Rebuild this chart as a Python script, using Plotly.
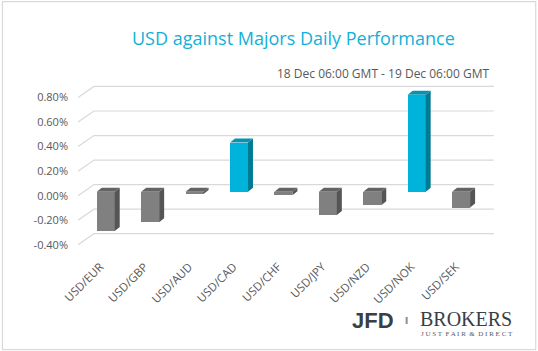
import plotly.graph_objects as go

# ---- data ----
categories = ["USD/EUR", "USD/GBP", "USD/AUD", "USD/CAD", "USD/CHF",
              "USD/JPY", "USD/NZD", "USD/NOK", "USD/SEK"]
values = [-0.32, -0.25, -0.02, 0.40, -0.03, -0.19, -0.11, 0.79, -0.13]  # percent
tick_vals = [-0.4, -0.2, 0.0, 0.2, 0.4, 0.6, 0.8]
title_text = "USD against Majors Daily Performance"
subtitle_text = "18 Dec 06:00 GMT - 19 Dec 06:00 GMT"

# ---- pseudo-3D geometry (in axis units) ----
W, H = 538, 351
PX_X = 44.4      # px per category
PX_Y = 122.0     # px per 1 %
ML = 78
XR = [0, 9.5]
YR = [-0.41, 0.91]
MR = W - ML - (XR[1] - XR[0]) * PX_X
y_bottom_px = 244.3 + (-0.4 - YR[0]) * PX_Y
MB = H - y_bottom_px
MT = y_bottom_px - (YR[1] - YR[0]) * PX_Y

wall_dx, wall_dy = 16 / PX_X, 11 / PX_Y          # floor depth
front_dx, front_dy = 5.5 / PX_X, 4 / PX_Y        # bar front plane offset
bar_dx, bar_dy = 5 / PX_X, 4 / PX_Y              # bar depth
bar_w = 18 / PX_X

def colors(v):
    if v > 0:
        return "#00b3db", "#007b93", "#0594b4"
    return "#808080", "#555555", "#646464"

fig = go.Figure()

# gridlines: diagonal on side wall + horizontal on back wall
shapes = []
for t in tick_vals:
    path = (f"M 0,{t} L {wall_dx},{t + wall_dy} L {len(categories) + wall_dx},{t + wall_dy}")
    shapes.append(dict(type="path", path=path, xref="x", yref="y",
                       line=dict(color="#d9d9d9", width=1.2), layer="below"))

# front faces
xs = [i + 0.5 + front_dx for i in range(len(categories))]
fig.add_trace(go.Bar(
    x=xs, y=values, base=[front_dy] * len(values), width=bar_w,
    marker=dict(color=[colors(v)[0] for v in values], line=dict(width=0)),
    hoverinfo="skip", showlegend=False))

# side and top faces
for xc, v in zip(xs, values):
    _, side_c, top_c = colors(v)
    lo = min(front_dy, front_dy + v)
    hi = max(front_dy, front_dy + v)
    xl, xr = xc - bar_w / 2, xc + bar_w / 2
    fig.add_trace(go.Scatter(
        x=[xr, xr + bar_dx, xr + bar_dx, xr, xr],
        y=[lo, lo + bar_dy, hi + bar_dy, hi, lo],
        fill="toself", fillcolor=side_c, mode="lines", line=dict(width=0),
        hoverinfo="skip", showlegend=False))
    fig.add_trace(go.Scatter(
        x=[xl, xl + bar_dx, xr + bar_dx, xr, xl],
        y=[hi, hi + bar_dy, hi + bar_dy, hi, hi],
        fill="toself", fillcolor=top_c, mode="lines", line=dict(width=0),
        hoverinfo="skip", showlegend=False))

# border around the whole chart
pw = W - ML - MR
ph = H - MT - MB
def px2paper_x(px):
    return (px - ML) / pw
def px2paper_y(py):
    return (H - MB - py) / ph
shapes.append(dict(type="rect", xref="paper", yref="paper",
                   x0=px2paper_x(2.5), x1=px2paper_x(535.5),
                   y0=px2paper_y(348.5), y1=px2paper_y(2.5),
                   line=dict(color="#d9d9d9", width=1.2)))
# logo separator
shapes.append(dict(type="rect", xref="paper", yref="paper",
                   x0=px2paper_x(405.5), x1=px2paper_x(407.5),
                   y0=px2paper_y(323), y1=px2paper_y(316),
                   fillcolor="#8a8f96", line=dict(width=0)))

tagline = "  ".join(" ".join(word) for word in ["JUST", "FAIR", "&", "DIRECT"])

annotations = [
    dict(text=title_text, xref="paper", yref="paper",
         x=px2paper_x(293), y=px2paper_y(39), xanchor="center", yanchor="middle",
         showarrow=False, font=dict(family="Open Sans", size=18, color="#12b0d8")),
    dict(text=subtitle_text, xref="paper", yref="paper",
         x=px2paper_x(491), y=px2paper_y(74), xanchor="right", yanchor="middle",
         showarrow=False, font=dict(family="Open Sans", size=12, color="#595959")),
    dict(text="<b>JFD</b>", xref="paper", yref="paper",
         x=px2paper_x(350), y=px2paper_y(319.5), xanchor="left", yanchor="middle",
         showarrow=False, font=dict(family="Liberation Sans", size=22, color="#3a3e45")),
    dict(text="BROKERS", xref="paper", yref="paper",
         x=px2paper_x(418), y=px2paper_y(318.5), xanchor="left", yanchor="middle",
         showarrow=False, font=dict(family="Liberation Serif", size=20, color="#3a3e45")),
    dict(text=tagline,
         xref="paper", yref="paper",
         x=px2paper_x(419), y=px2paper_y(333), xanchor="left", yanchor="middle",
         showarrow=False, font=dict(family="Liberation Serif", size=7, color="#55595f")),
]

fig.update_layout(
    width=W, height=H, autosize=False,
    margin=dict(l=ML, r=MR, t=MT, b=MB, pad=0),
    paper_bgcolor="white", plot_bgcolor="white",
    shapes=shapes, annotations=annotations, bargap=0,
    xaxis=dict(range=XR, tickmode="array",
               tickvals=[i + 0.5 for i in range(len(categories))],
               ticktext=categories, tickangle=-45, showgrid=False,
               zeroline=False, showline=False, ticks="",
               ticklabelstandoff=11,
               tickfont=dict(family="Open Sans", size=11.5, color="#595959")),
    yaxis=dict(range=YR, tickmode="array", tickvals=tick_vals,
               ticktext=[f"{v:.2f}%" for v in tick_vals],
               showgrid=False, zeroline=False, showline=False, ticks="",
               ticklabelstandoff=9,
               tickfont=dict(family="Open Sans", size=11, color="#595959")),
)

fig.write_html("out.html")
